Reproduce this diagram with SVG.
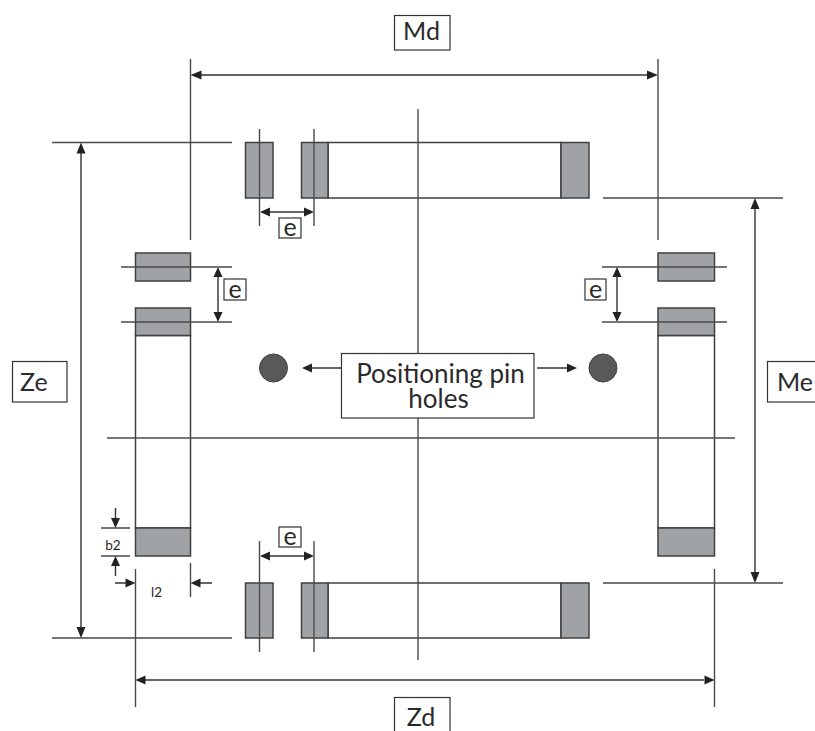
<svg xmlns="http://www.w3.org/2000/svg" width="815" height="731" viewBox="0 0 815 731">
<style>
.l{stroke:#4a4a4a;stroke-width:1.4;fill:none}
.d{stroke:#333;stroke-width:1.4;fill:none}
.p{fill:#a0a3a5;stroke:#404040;stroke-width:1.5}
.b{fill:#fff;stroke:#404040;stroke-width:1.5}
.lb{fill:#fff;stroke:#333;stroke-width:1.2}
.ah{fill:#222;stroke:none}
text{font-family:Lato,"Open Sans","Liberation Sans",sans-serif;fill:#2a2a2a}
.big{font-size:25px}
.pin{font-size:26px}
.m{font-size:25px}
.s{font-size:13.500px}
.t{text-anchor:middle}
</style>
<rect width="815" height="731" fill="#fff"/>
<g id="pad-top-left"><rect class="p" x="245.500" y="142.500" width="27.500" height="55.500"/></g>
<g id="pad-top-right">
<rect class="b" x="328" y="142.500" width="233" height="55.500"/>
<rect class="p" x="301.500" y="142.500" width="26.500" height="55.500"/>
<rect class="p" x="561" y="142.500" width="28" height="55.500"/></g>
<g id="pad-bottom-left"><rect class="p" x="245.500" y="583" width="27.500" height="55"/></g>
<g id="pad-bottom-right">
<rect class="b" x="328" y="583" width="233" height="55"/>
<rect class="p" x="301.500" y="583" width="26.500" height="55"/>
<rect class="p" x="561" y="583" width="28" height="55"/></g>
<g id="pad-left-top"><rect class="p" x="135.500" y="253" width="55" height="28"/></g>
<g id="pad-left-body">
<rect class="b" x="135.500" y="335.500" width="55" height="192.500"/>
<rect class="p" x="135.500" y="308" width="55" height="27.500"/>
<rect class="p" x="135.500" y="528" width="55" height="28"/></g>
<g id="pad-right-top"><rect class="p" x="658" y="253" width="56.500" height="28"/></g>
<g id="pad-right-body">
<rect class="b" x="658" y="335.500" width="56.500" height="192.500"/>
<rect class="p" x="658" y="308" width="56.500" height="27.500"/>
<rect class="p" x="658" y="528" width="56.500" height="28"/></g>
<g id="pin-left"><circle cx="273.500" cy="368" r="14" fill="#58595b" stroke="#444"/></g>
<g id="pin-right"><circle cx="603" cy="368" r="14" fill="#58595b" stroke="#444"/></g>
<g id="connectors">
<path class="l" d="M107 438H735M418 109V660"/>
<path class="l" d="M52 142.500H232M52 638H232M603 198H783M603 583H783"/>
<path class="l" d="M190.500 59V240M658 59V240M135.500 569V707M714.500 569V707"/>
<path class="l" d="M190.500 563V597M101 528H130M101 556H130"/>
<path class="l" d="M259.500 129V226M314 129V226M259.500 541V652M314 541V652"/>
<path class="l" d="M121 267H232M121 322H232M602 267H727M602 322H727"/>
<path class="d" d="M200 75H648M145 680H704M81 152V628M755 208V573"/>
<path class="d" d="M268 212H306M268 556H306M218 276V313M617 276V313"/>
<path class="d" d="M115.500 508V520M115.500 564V576M115 583H127M212 583H199"/>
<path class="d" d="M342 368H310M537 368H568"/>
<path class="ah" d="M190.500 75l11-4.500v9zM658 75l-11-4.500v9zM135.500 680l10-4.500v9zM714.500 680l-10-4.500v9z"/>
<path class="ah" d="M81 142.500l-4.500 11h9zM81 638l-4.500-11h9zM755 198l-4.500 11h9zM755 583l-4.500-11h9z"/>
<path class="ah" d="M260 212l10-4.500v9zM314 212l-10-4.500v9zM260 556l10-4.500v9zM314 556l-10-4.500v9z"/>
<path class="ah" d="M218 267l-4.500 10h9zM218 322l-4.500-10h9zM617 267l-4.500 10h9zM617 322l-4.500-10h9z"/>
<path class="ah" d="M115.500 528l-4.500-10h9zM115.500 556l-4.500 10h9zM135.500 583l-10-4.500v9zM190.500 583l10-4.500v9z"/>
<path class="ah" d="M302 368l10-4.500v9zM577 368l-10-4.500v9z"/>
</g>
<g id="label-md"><rect class="lb" x="394.500" y="15.500" width="55.500" height="34.500"/><text class="big t" x="421.500" y="40">Md</text></g>
<g id="label-ze"><rect class="lb" x="12.500" y="361.500" width="54.500" height="40.500"/><text class="big" x="20" y="391">Ze</text></g>
<g id="label-me"><rect class="lb" x="767.500" y="361.500" width="54" height="40.500"/><text class="big" x="777" y="391">Me</text></g>
<g id="label-zd"><rect class="lb" x="394.500" y="697.500" width="55.500" height="40"/><text class="big t" x="421" y="726">Zd</text></g>
<g id="label-e1"><rect class="lb" x="279" y="218" width="22" height="20"/><text class="m t" x="290" y="236">e</text></g>
<g id="label-e2"><rect class="lb" x="224" y="279" width="22" height="21"/><text class="m t" x="235" y="298">e</text></g>
<g id="label-e3"><rect class="lb" x="585" y="279" width="21" height="21"/><text class="m t" x="595.500" y="298">e</text></g>
<g id="label-e4"><rect class="lb" x="279" y="527" width="22" height="20"/><text class="m t" x="290" y="545">e</text></g>
<g id="label-pin"><rect class="lb" x="341.500" y="353.500" width="192.500" height="64.500"/>
<text class="pin t" x="440.500" y="383">Positioning pin</text>
<text class="pin t" x="438.500" y="408">holes</text></g>
<text class="s t" x="113" y="550">b2</text>
<text class="s t" x="156.500" y="597">l2</text>
</svg>
